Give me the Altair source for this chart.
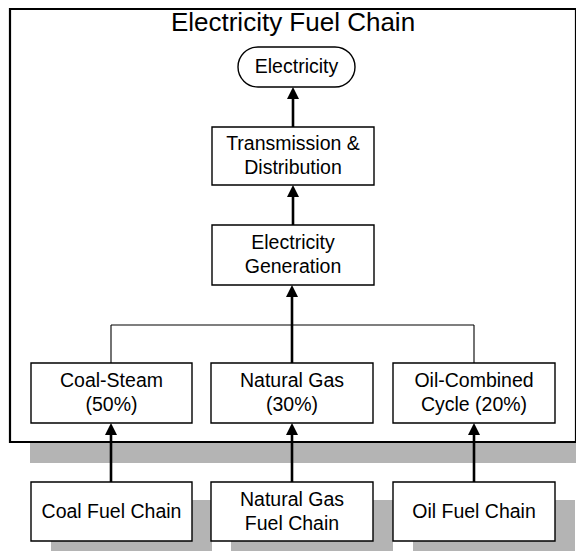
import altair as alt
import pandas as pd

# ---- diagram content (image pixel coordinates) ----
title_text = ["Electricity Fuel Chain"]
title_x = [293]
title_y = [23]

box_labels = [
    "Electricity",
    "Transmission &\nDistribution",
    "Electricity\nGeneration",
    "Coal-Steam\n(50%)",
    "Natural Gas\n(30%)",
    "Oil-Combined\nCycle (20%)",
    "Coal Fuel Chain",
    "Natural Gas\nFuel Chain",
    "Oil Fuel Chain",
]
box_x0 = [238, 212, 212, 31, 211, 393, 31, 211, 393]
box_x1 = [355, 374, 374, 192, 373, 555, 192, 373, 555]
box_y0 = [47, 127, 225, 363, 363, 363, 482, 482, 482]
box_y1 = [87, 185, 285, 423, 423, 423, 541, 541, 541]
box_round = [True, False, False, False, False, False, False, False, False]

# shadows behind outer frame and bottom boxes
shadow_x0 = [30, 51, 231, 413]
shadow_x1 = [590, 212, 393, 575]
shadow_y0 = [27, 500, 500, 500]
shadow_y1 = [463, 565, 565, 565]

frame_x0, frame_x1, frame_y0, frame_y1 = [10], [576], [9], [442]

# arrows: (x, from_y, to_y) tip at to_y
arrow_x = [293, 293, 292, 111, 292, 474]
arrow_from = [127, 225, 363, 482, 482, 482]
arrow_to = [87, 185, 285, 423, 423, 423]

# thin connector lines (x, y, x2, y2)
conn_x = [111, 111, 474]
conn_y = [325, 325, 325]
conn_x2 = [474, 111, 474]
conn_y2 = [325, 363, 363]

LINE_H = 24

# ---- build tables ----
boxes = pd.DataFrame(dict(label=box_labels, x0=box_x0, x1=box_x1, y0=box_y0, y1=box_y1, rnd=box_round))
boxes["cx"] = (boxes.x0 + boxes.x1) / 2
boxes["cy"] = (boxes.y0 + boxes.y1) / 2
rows = []
for _, b in boxes.iterrows():
    parts = b.label.split("\n")
    n = len(parts)
    for i, p in enumerate(parts):
        rows.append(dict(t=p, x=b.cx, y=b.cy + (i - (n - 1) / 2) * LINE_H))
lines = pd.DataFrame(rows)
shadows = pd.DataFrame(dict(x0=shadow_x0, x1=shadow_x1, y0=shadow_y0, y1=shadow_y1))
frame = pd.DataFrame(dict(x0=frame_x0, x1=frame_x1, y0=frame_y0, y1=frame_y1))
title = pd.DataFrame(dict(t=title_text, x=title_x, y=title_y))
arrows = pd.DataFrame(dict(x=arrow_x, y=arrow_from, y2=arrow_to))
arrows["head"] = arrows.y2 + 6
conns = pd.DataFrame(dict(x=conn_x, y=conn_y, x2=conn_x2, y2=conn_y2))

W, H = 568, 543
xs = alt.Scale(domain=[8, 8 + W], nice=False, zero=False)
ys = alt.Scale(domain=[8, 8 + H], nice=False, zero=False, reverse=True)
X = lambda f: alt.X(f, type="quantitative", scale=xs, axis=None)
Y = lambda f: alt.Y(f, type="quantitative", scale=ys, axis=None)

FONT = "Liberation Sans"

shadow_layer = alt.Chart(shadows).mark_rect(color="#b4b4b4", clip=True).encode(
    x=X("x0"), x2="x1", y=Y("y0"), y2="y1")

frame_layer = alt.Chart(frame).mark_rect(fill="white", stroke="black", strokeWidth=2.2).encode(
    x=X("x0"), x2="x1", y=Y("y0"), y2="y1")

title_layer = alt.Chart(title).mark_text(font=FONT, fontSize=26, baseline="middle", align="center",
                                         color="black").encode(
    x=X("x"), y=Y("y"), text="t")

square_boxes = alt.Chart(boxes[~boxes.rnd]).mark_rect(fill="white", stroke="black", strokeWidth=1.4).encode(
    x=X("x0"), x2="x1", y=Y("y0"), y2="y1")

round_boxes = alt.Chart(boxes[boxes.rnd]).mark_rect(fill="white", stroke="black", strokeWidth=1.4,
                                                     cornerRadius=20).encode(
    x=X("x0"), x2="x1", y=Y("y0"), y2="y1")

labels = alt.Chart(lines).mark_text(font=FONT, fontSize=19.5,
                                    baseline="middle", align="center", color="black").encode(
    x=X("x"), y=Y("y"), text="t")

conn_layer = alt.Chart(conns).mark_rule(color="black", strokeWidth=1.1).encode(
    x=X("x"), y=Y("y"), x2="x2", y2="y2")

arrow_shafts = alt.Chart(arrows).mark_rule(color="black", strokeWidth=2.6).encode(
    x=X("x"), y=Y("y"), y2="head")

arrow_heads = alt.Chart(arrows).mark_point(shape="M-1,1L0,-1L1,1Z", filled=True, color="black",
                                           size=144, opacity=1).encode(
    x=X("x"), y=Y("head"))

chart = alt.layer(
    shadow_layer, frame_layer, title_layer, conn_layer, arrow_shafts, arrow_heads,
    square_boxes, round_boxes, labels,
).properties(width=W, height=H, padding=0, autosize="none").configure_view(stroke=None)

chart.save("out.html", embed_options={"renderer": "svg", "actions": False})
